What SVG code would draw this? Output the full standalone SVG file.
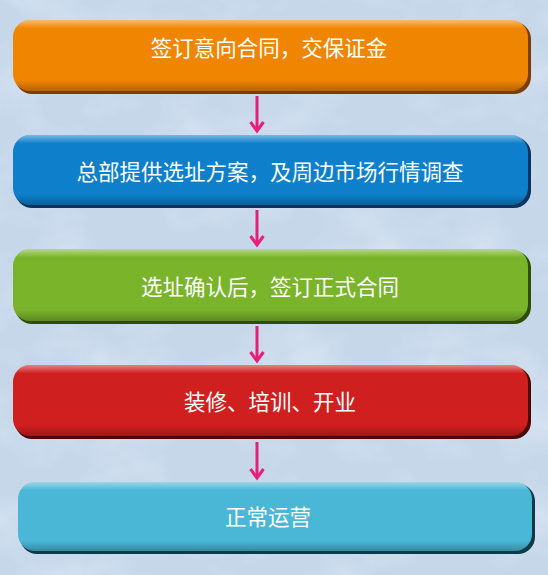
<svg xmlns="http://www.w3.org/2000/svg" width="548" height="575" viewBox="0 0 548 575">
<defs>
<filter id="marble" x="0" y="0" width="100%" height="100%">
<feTurbulence type="fractalNoise" baseFrequency="0.012 0.018" numOctaves="4" seed="7" result="n"/>
<feColorMatrix in="n" type="matrix" values="0 0 0 0 0.86  0 0 0 0 0.91  0 0 0 0 0.96  0 0 0 1.0 -0.45" result="c"/>
<feComposite in="c" in2="SourceGraphic" operator="in"/>
</filter>
<linearGradient id="hl" x1="0" y1="0" x2="0" y2="1">
<stop offset="0" stop-color="#fff" stop-opacity="0.45"/>
<stop offset="0.12" stop-color="#fff" stop-opacity="0"/>
<stop offset="0.85" stop-color="#000" stop-opacity="0"/>
<stop offset="1" stop-color="#000" stop-opacity="0.25"/>
</linearGradient>
<marker id="ah" markerWidth="16" markerHeight="16" refX="13" refY="8" orient="auto" markerUnits="userSpaceOnUse" viewBox="0 0 16 16">
<path d="M4,1.5 L13,8 L4,14.5" fill="none" stroke="#e61f78" stroke-width="3"/>
</marker>
<style>
.lbl{font-family:"Noto Sans CJK SC","Noto Sans",sans-serif;font-size:21.5px;fill:#fff;text-anchor:middle;}
.conn line{stroke:#e61f78;stroke-width:3;}
</style>
</defs>
<rect width="548" height="575" fill="#c6d7ea"/>
<rect width="548" height="575" fill="#fff" opacity="0.8" filter="url(#marble)"/>
<g id="n1">
<rect x="15" y="22" width="516" height="72" rx="17" fill="#7a3d00"/>
<rect x="13" y="20" width="515" height="71" rx="17" fill="#ef8500"/>
<rect x="13" y="20" width="515" height="71" rx="17" fill="url(#hl)"/>
<text class="lbl" x="269" y="56">签订意向合同，交保证金</text>
</g>
<g id="n2">
<rect x="15" y="137" width="516" height="71" rx="17" fill="#0b3560"/>
<rect x="13" y="135" width="515" height="70" rx="17" fill="#0d7fcb"/>
<rect x="13" y="135" width="515" height="70" rx="17" fill="url(#hl)"/>
<text class="lbl" x="270" y="180">总部提供选址方案，及周边市场行情调查</text>
</g>
<g id="n3">
<rect x="15" y="251" width="516" height="73" rx="17" fill="#2f4d08"/>
<rect x="13" y="249" width="515" height="72" rx="17" fill="#79b42a"/>
<rect x="13" y="249" width="515" height="72" rx="17" fill="url(#hl)"/>
<text class="lbl" x="270" y="295">选址确认后，签订正式合同</text>
</g>
<g id="n4">
<rect x="15" y="367" width="516" height="72" rx="17" fill="#4a0808"/>
<rect x="13" y="365" width="515" height="71" rx="17" fill="#d01f1f"/>
<rect x="13" y="365" width="515" height="71" rx="17" fill="url(#hl)"/>
<text class="lbl" x="270" y="410">装修、培训、开业</text>
</g>
<g id="n5">
<rect x="20" y="484" width="515" height="70" rx="17" fill="#0e3a4a"/>
<rect x="18" y="482" width="514" height="69" rx="17" fill="#4ab7d6"/>
<rect x="18" y="482" width="514" height="69" rx="17" fill="url(#hl)"/>
<text class="lbl" x="268" y="525">正常运营</text>
</g>
<g class="conn" id="connectors">
<line x1="257" y1="96" x2="257" y2="131" marker-end="url(#ah)"/>
<line x1="257" y1="210" x2="257" y2="245" marker-end="url(#ah)"/>
<line x1="257" y1="326" x2="257" y2="361" marker-end="url(#ah)"/>
<line x1="257" y1="442" x2="257" y2="478" marker-end="url(#ah)"/>
</g>
</svg>
